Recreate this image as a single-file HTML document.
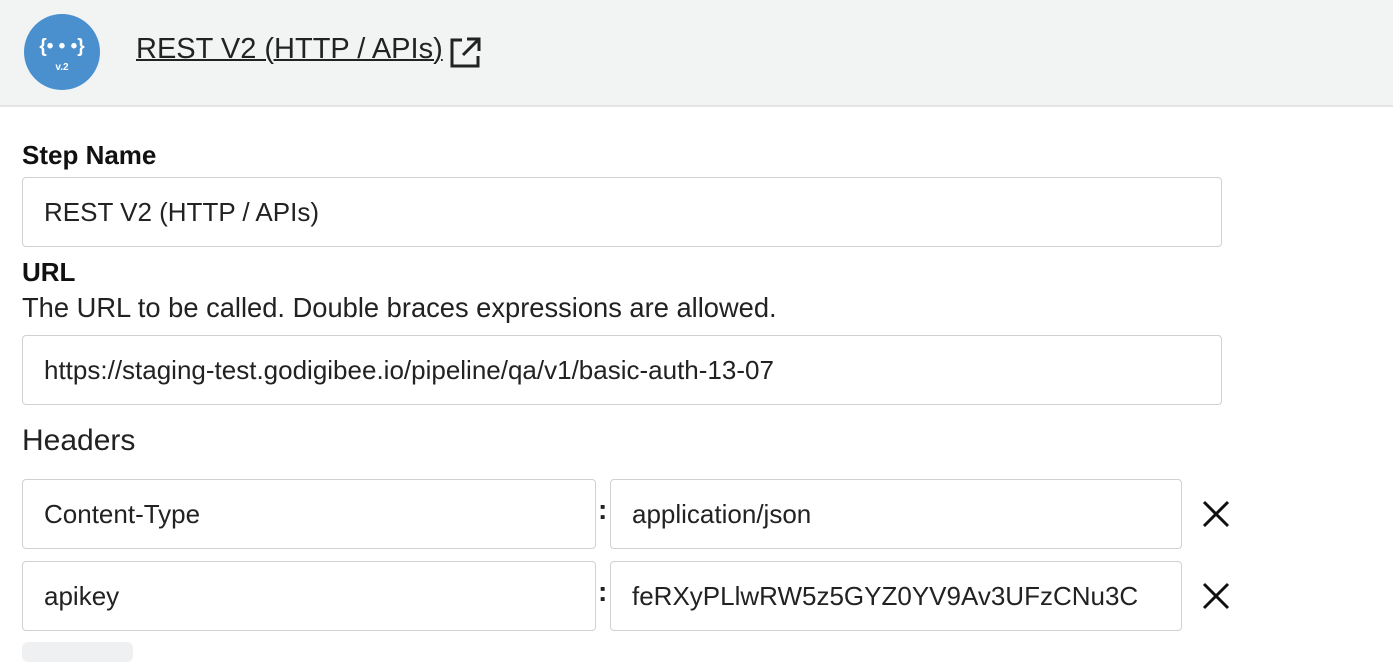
<!DOCTYPE html>
<html><head><style>
body{margin:0;width:1393px;height:651px;overflow:hidden;background:#fff;font-family:"Liberation Sans",sans-serif;color:#222;position:relative}
.hdr{position:absolute;left:0;top:0;width:1393px;height:105px;background:#f2f3f3;border-bottom:2px solid #e4e5e5}
.circ{position:absolute;left:24px;top:14px;width:76px;height:76px;border-radius:50%;background:#4a90cf;color:#fff;text-align:center;font-weight:bold}
.title{position:absolute;left:136px;top:33px;font-size:29px;text-decoration:underline;text-decoration-thickness:2px;color:#222}
.lbl{position:absolute;left:22px;font-size:26px;font-weight:bold;color:#111}
.desc{position:absolute;left:22px;font-size:27.3px;color:#222}
.inp{position:absolute;height:70px;border:1.5px solid #cfd1d2;border-radius:4px;box-sizing:border-box;font-size:26px;line-height:68px;padding-left:21px;color:#222;background:#fff}
.col{position:absolute;left:598px;font-size:28px;font-weight:bold}
.x{position:absolute;left:1202px}
</style></head><body>
<div class="hdr">
 <div class="circ"><div style="font-size:19px;margin-top:22px">{• • •}</div><div style="font-size:10px;margin-top:4px">v.2</div></div>
 <div class="title">REST V2 (HTTP / APIs)</div>
 <svg style="position:absolute;left:448px;top:36px" width="34" height="34" viewBox="0 0 34 34" fill="none" stroke="#222" stroke-width="3"><path d="M14 4H4v26h26V20"/><path d="M19 3h12v12M31 3L15 19"/></svg>
</div>
<div class="lbl" style="top:140px">Step Name</div>
<div class="inp" style="left:22px;top:177px;width:1200px">REST V2 (HTTP / APIs)</div>
<div class="lbl" style="top:257px">URL</div>
<div class="desc" style="top:292px">The URL to be called. Double braces expressions are allowed.</div>
<div class="inp" style="left:22px;top:335px;width:1200px">https://staging-test.godigibee.io/pipeline/qa/v1/basic-auth-13-07</div>
<div class="desc" style="top:424px;font-size:30px">Headers</div>
<div class="inp" style="left:22px;top:479px;width:574px">Content-Type</div>
<div class="col" style="top:494px">:</div>
<div class="inp" style="left:610px;top:479px;width:572px">application/json</div>
<svg class="x" style="top:500px" width="28" height="28" viewBox="0 0 28 28" stroke="#111" stroke-width="3"><path d="M2 2L26 26M26 2L2 26"/></svg>
<div class="inp" style="left:22px;top:561px;width:574px">apikey</div>
<div class="col" style="top:576px">:</div>
<div class="inp" style="left:610px;top:561px;width:572px">feRXyPLlwRW5z5GYZ0YV9Av3UFzCNu3C</div>
<svg class="x" style="top:582px" width="28" height="28" viewBox="0 0 28 28" stroke="#111" stroke-width="3"><path d="M2 2L26 26M26 2L2 26"/></svg>
<div style="position:absolute;left:22px;top:642px;width:111px;height:20px;background:#eef0f1;border-radius:6px"></div>
</body></html>
